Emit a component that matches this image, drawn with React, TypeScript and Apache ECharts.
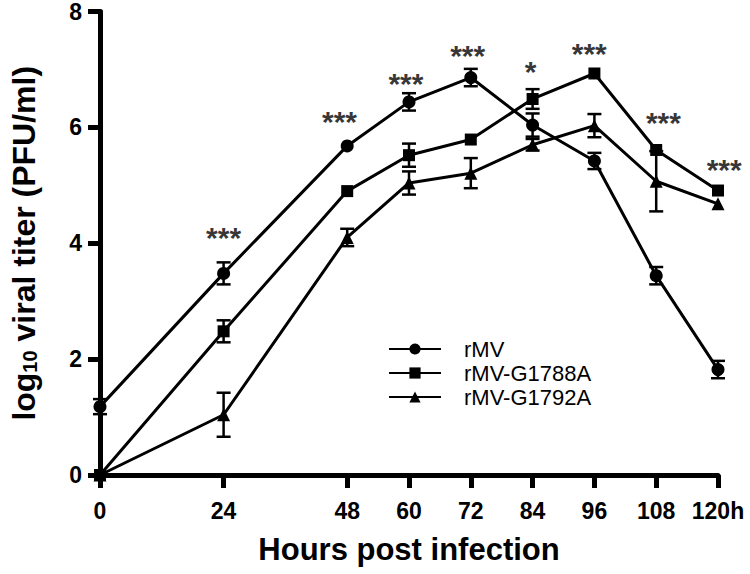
import React, { useEffect, useRef } from "react";
import * as echarts from "echarts";

const hours = [0, 24, 48, 60, 72, 84, 96, 108, 120];
const tickHours = [0, 24, 48, 60, 72, 84, 96, 108, 120];
const tickLabels = ["0", "24", "48", "60", "72", "84", "96", "108", "120h"];
const seriesNames = ["rMV", "rMV-G1788A", "rMV-G1792A"];

const rMV = [1.18, 3.48, 5.68, 6.44, 6.86, 6.04, 5.42, 3.44, 1.82];
const rMVErr = [0.13, 0.19, 0, 0.15, 0.15, 0.2, 0.14, 0.15, 0.15];
const g1788 = [0, 2.48, 4.9, 5.52, 5.79, 6.49, 6.93, 5.61, 4.91];
const g1788Err = [0, 0.19, 0, 0.2, 0, 0.17, 0, 0, 0];
const g1792 = [0, 1.04, 4.1, 5.04, 5.21, 5.7, 6.03, 5.07, 4.68];
const g1792Err = [0, 0.38, 0.15, 0.2, 0.26, 0.1, 0.2, 0.52, 0];

const starHours = [24, 46.5, 59.4, 71.4, 83.6, 95, 109.4, 121.2];
const starValues = [4.1, 6.1, 6.76, 7.24, 6.97, 7.27, 6.08, 5.28];
const starTexts = ["***", "***", "***", "***", "*", "***", "***", "***"];

const FONT = "'Liberation Sans', Arial, Helvetica, sans-serif";

function errorSeries(means: number[], errs: number[]) {
  const data: number[][] = [];
  hours.forEach((h, i) => {
    if (errs[i] > 0) data.push([h, means[i] - errs[i], means[i] + errs[i]]);
  });
  return {
    type: "custom",
    silent: true,
    z: 1,
    renderItem: (params: any, api: any) => {
      const x = api.value(0);
      const p1 = api.coord([x, api.value(1)]);
      const p2 = api.coord([x, api.value(2)]);
      const w = 7;
      const st = { stroke: "#000", lineWidth: 2.5 };
      return {
        type: "group",
        children: [
          { type: "line", shape: { x1: p1[0], y1: p1[1], x2: p2[0], y2: p2[1] }, style: st },
          { type: "line", shape: { x1: p1[0] - w, y1: p1[1], x2: p1[0] + w, y2: p1[1] }, style: st },
          { type: "line", shape: { x1: p2[0] - w, y1: p2[1], x2: p2[0] + w, y2: p2[1] }, style: st },
        ],
      };
    },
    data,
  };
}

function lineSeries(name: string, means: number[], symbol: string, size: number) {
  return {
    type: "line",
    name,
    data: hours.map((h, i) => [h, means[i]]),
    symbol,
    symbolSize: size,
    showSymbol: true,
    z: 3,
    lineStyle: { color: "#000", width: 3 },
    itemStyle: { color: "#000" },
  };
}

export default function App() {
  const ref = useRef<HTMLDivElement>(null);
  useEffect(() => {
    document.body.style.margin = "0";
    if (!ref.current) return;
    const chart = echarts.init(ref.current, undefined, { renderer: "svg" });
    chart.setOption({
      animation: false,
      backgroundColor: "#fff",
      grid: { left: 97, right: 32, top: 10, bottom: 99, containLabel: false },
      legend: {
        orient: "vertical",
        left: 383,
        top: 333,
        itemWidth: 52,
        itemHeight: 14,
        itemGap: 2,
        data: seriesNames,
        textStyle: { fontSize: 22, color: "#000", fontFamily: FONT, padding: [0, 0, 0, 18] },
      },
      xAxis: {
        type: "value",
        min: 0,
        max: 120,
        interval: 12,
        name: "Hours post infection",
        nameLocation: "middle",
        nameGap: 59,
        nameTextStyle: { fontSize: 31, fontWeight: "bold", color: "#000", fontFamily: FONT },
        splitLine: { show: false },
        axisLine: { lineStyle: { color: "#000", width: 5 } },
        axisTick: { customValues: tickHours, length: 13, lineStyle: { color: "#000", width: 5 } },
        axisLabel: {
          customValues: tickHours,
          margin: 24,
          fontSize: 23,
          fontWeight: "bold",
          color: "#000",
          fontFamily: FONT,
          formatter: (v: number) => tickLabels[tickHours.indexOf(v)] ?? "",
        },
      },
      yAxis: {
        type: "value",
        min: 0,
        max: 8,
        interval: 2,
        name: "log{sub|10} viral titer (PFU/ml)",
        nameLocation: "middle",
        nameGap: 60,
        nameTextStyle: {
          fontSize: 32,
          fontWeight: "bold",
          color: "#000",
          fontFamily: FONT,
          lineHeight: 32,
          rich: {
            sub: {
              fontSize: 20,
              fontWeight: "bold",
              color: "#000",
              fontFamily: FONT,
              verticalAlign: "bottom",
              lineHeight: 12,
            },
          },
        },
        splitLine: { show: false },
        axisLine: { show: true, lineStyle: { color: "#000", width: 5 } },
        axisTick: { show: true, length: 12, lineStyle: { color: "#000", width: 5 } },
        axisLabel: { margin: 18, fontSize: 23, fontWeight: "bold", color: "#000", fontFamily: FONT },
      },
      series: [
        errorSeries(rMV, rMVErr),
        errorSeries(g1788, g1788Err),
        errorSeries(g1792, g1792Err),
        lineSeries(seriesNames[0], rMV, "circle", 13),
        lineSeries(seriesNames[1], g1788, "rect", 12),
        lineSeries(seriesNames[2], g1792, "triangle", 13),
        {
          type: "scatter",
          silent: true,
          clip: false,
          symbolSize: 0,
          z: 4,
          data: starHours.map((h, i) => [h, starValues[i], starTexts[i]]),
          label: {
            show: true,
            position: "inside",
            formatter: (p: any) => p.data[2],
            fontSize: 30,
            fontWeight: "bold",
            color: "#000",
            fontFamily: FONT,
          },
        },
      ],
    });
    return () => chart.dispose();
  }, []);
  return <div ref={ref} style={{ width: 750, height: 574 }} />;
}
